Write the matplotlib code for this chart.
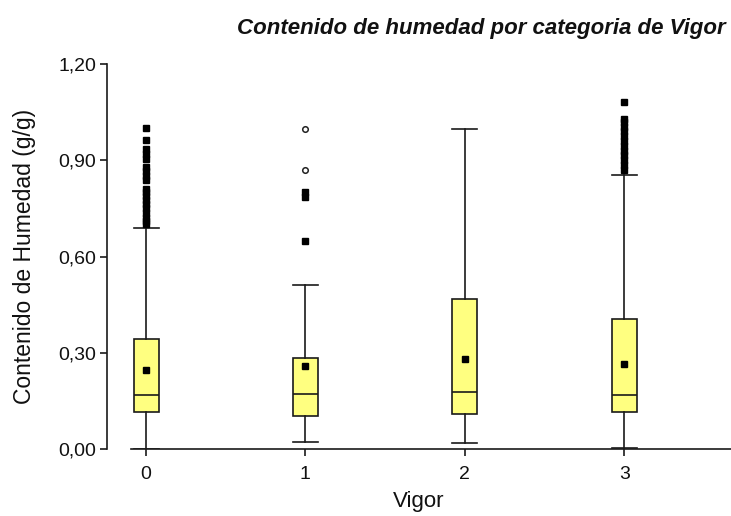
import matplotlib
matplotlib.use("Agg")
import matplotlib.pyplot as plt
from matplotlib.ticker import FuncFormatter

plt.rcParams['font.family'] = ['Liberation Sans', 'DejaVu Sans']

# Vigor categories and box statistics of moisture content (g/g)
categories = [0, 1, 2, 3]
q1 = [0.116, 0.103, 0.109, 0.116]
medians = [0.169, 0.172, 0.178, 0.169]
q3 = [0.344, 0.284, 0.468, 0.406]
means = [0.247, 0.260, 0.281, 0.265]
whisker_low = [0.0, 0.022, 0.019, 0.003]
whisker_high = [0.690, 0.510, 0.997, 0.855]

# Outliers (filled squares) and extreme values (open circles)
outliers_0 = [0.700, 0.710, 0.720, 0.735, 0.750, 0.765, 0.775, 0.790, 0.800,
              0.810, 0.840, 0.850, 0.865, 0.880, 0.905, 0.920, 0.935, 0.964, 1.000]
outliers_1 = [0.647, 0.785, 0.800]
outliers_2 = []
outliers_3 = [0.870, 0.885, 0.900, 0.915, 0.930, 0.945, 0.960, 0.975, 0.990,
              1.005, 1.020, 1.030, 1.080]
outliers = [outliers_0, outliers_1, outliers_2, outliers_3]
extremes_1 = [0.869, 0.997]

y_ticks = [0.0, 0.3, 0.6, 0.9, 1.2]

fig = plt.figure(figsize=(7.31, 5.16), dpi=100)
ax = fig.add_axes([107 / 731, 67 / 516, 624 / 731, 385 / 516])

stats = []
for i in range(len(categories)):
    stats.append(dict(med=medians[i], q1=q1[i], q3=q3[i], mean=means[i],
                      whislo=whisker_low[i], whishi=whisker_high[i],
                      fliers=outliers[i]))

edge = '#1a1a1a'
ax.bxp(stats, positions=categories, widths=0.157, patch_artist=True,
       showmeans=True, showfliers=True, capwidths=0.157,
       boxprops=dict(facecolor='#ffff80', edgecolor=edge, linewidth=1.2),
       medianprops=dict(color=edge, linewidth=1.2),
       whiskerprops=dict(color=edge, linewidth=1.2),
       capprops=dict(color=edge, linewidth=1.2),
       meanprops=dict(marker='s', markerfacecolor='black', markeredgecolor='black',
                      markersize=4.5),
       flierprops=dict(marker='s', markerfacecolor='black', markeredgecolor='black',
                       markersize=4.5, linestyle='none'))

ax.plot([categories[1]] * len(extremes_1), extremes_1, linestyle='none',
        marker='o', markersize=4, markerfacecolor='white',
        markeredgecolor='#222222', markeredgewidth=1.1)

ax.set_xlim(-0.245, 3.67)
ax.set_ylim(0, 1.2)
ax.set_xticks(categories)
ax.set_xticklabels([str(c) for c in categories])
ax.set_yticks(y_ticks)
ax.yaxis.set_major_formatter(FuncFormatter(lambda v, p: f"{v:.2f}".replace('.', ',')))

for side in ('top', 'right'):
    ax.spines[side].set_visible(False)
ax.spines['left'].set_linewidth(1.2)
ax.spines['bottom'].set_linewidth(1.2)
ax.spines['left'].set_color(edge)
ax.spines['bottom'].set_color(edge)
ax.spines['bottom'].set_bounds(-0.094, 3.67)

ax.tick_params(axis='both', direction='out', length=5, width=1.2, color=edge,
               labelsize=14, labelcolor='#111111', pad=3)
ax.tick_params(axis='x', pad=7)

ax.set_ylabel('Contenido de Humedad (g/g)', fontsize=16.5, color='#111111', labelpad=16)
ax.set_xlabel('Vigor', fontsize=16, color='#111111', labelpad=6)

fig.text(0.992, 0.945, 'Contenido de humedad por categoria de Vigor',
         ha='right', va='center', fontsize=16, fontweight='bold', style='italic',
         color='#111111')

fig.savefig('out.png', dpi=100, facecolor='white')
